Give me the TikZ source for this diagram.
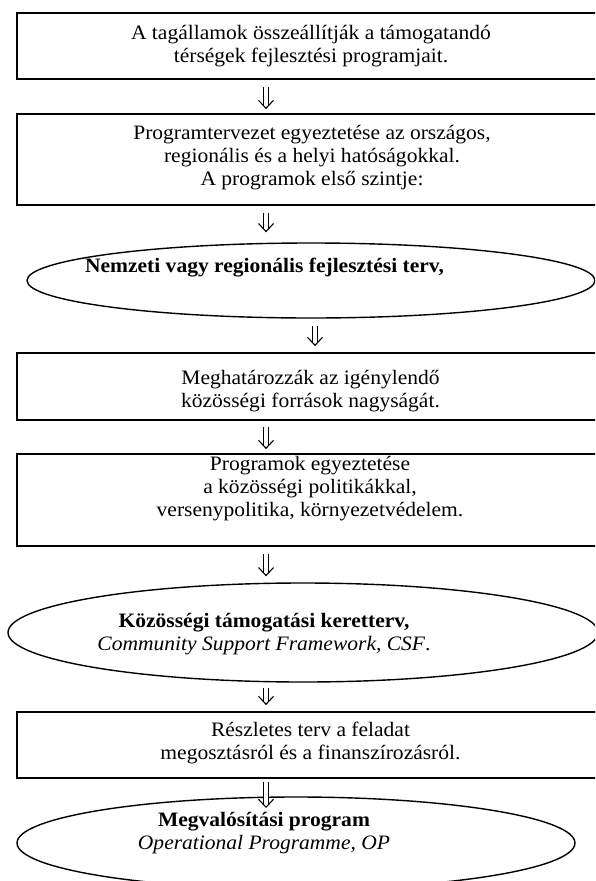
\documentclass[tikz,border=0pt]{standalone}
\usepackage{fontspec}
\setmainfont{Liberation Serif}[FakeStretch=1.05]
\usetikzlibrary{shapes.geometric,arrows.meta}

\tikzset{
  stepbox/.style={draw, line width=1.8pt, rectangle, minimum width=583pt, inner sep=0pt},
  stageoval/.style={draw, line width=1.4pt, ellipse, inner sep=0pt},
  label/.style={align=center, inner sep=0pt,
    font=\fontsize{20.5}{23}\selectfont},
  % double shaft of an arrow; #1 = gap at start, #2 = gap at the tip
  arrowshaft/.style 2 args={double, double distance=4.4pt, line width=1.1pt,
    shorten <=#1, shorten >=#2+3pt},
  % open V head of the same arrow, drawn on a hairline hidden in the shaft
  arrowhead/.style 2 args={white, line width=0.1pt,
    shorten <=#1, shorten >=#2,
    -{Straight Barb[length=8pt, width=15pt, line width=1.1pt, color=black]}},
}

\begin{document}
\begin{tikzpicture}[x=1pt,y=-1pt]
  \useasboundingbox (0,0) rectangle (595,881);
  \clip (0,0) rectangle (595,881);

  % frames and ovals
  \node[stepbox, minimum height=66pt] (b1) at (308.5,46) {};
  \node[stepbox, minimum height=91pt] (b2) at (308.5,159.5) {};
  \node[stageoval, minimum width=568pt, minimum height=75pt] (e1) at (311,280.5) {};
  \node[stepbox, minimum height=67pt] (b3) at (308.5,386.5) {};
  \node[stepbox, minimum height=92pt] (b4) at (308.5,500) {};
  \node[stageoval, minimum width=590pt, minimum height=99pt] (e2) at (303,632.5) {};
  \node[stepbox, minimum height=66pt] (b5) at (308.5,745) {};
  \node[stageoval, minimum width=558pt, minimum height=92pt] (e3) at (296,843) {};

  % texts
  \node[label] (t1) at (311,46) {A tagállamok összeállítják a támogatandó\\térségek fejlesztési programjait.};
  \node[label] (t2) at (312,158) {Programtervezet egyeztetése az országos,\\regionális és a helyi hatóságokkal.\\A programok első szintje:};
  \node[label, font=\fontsize{20.5}{23}\selectfont\bfseries] (t3) at (264.5,268) {Nemzeti vagy regionális fejlesztési terv,};
  \node[label] (t4) at (310.5,391) {Meghatározzák az igénylendő\\közösségi források nagyságát.};
  \node[label] (t5) at (310,489) {Programok egyeztetése\\a közösségi politikákkal,\\versenypolitika, környezetvédelem.};
  \node[label] (t6) at (264,634) {\textbf{Közösségi támogatási keretterv,}\\\textit{Community Support Framework, CSF}.};
  \node[label] (t7) at (310.5,743) {Részletes terv a feladat\\megosztásról és a finanszírozásról.};
  \node[label] (t8) at (264,833) {\textbf{Megvalósítási program}\\\textit{Operational Programme, OP}};

  % arrow columns and the last tip, which reaches into the bottom oval
  \coordinate (ax) at (266,0);
  \coordinate (bx) at (315,0);
  \coordinate (tip7) at (266,808);

  % arrows: shaft, then head on the same route
  \draw[arrowshaft={7pt}{4pt}] (b1.south -| ax) -- (b2.north -| ax);
  \draw[arrowhead={7pt}{4pt}] (b1.south -| ax) -- (b2.north -| ax);
  \draw[arrowshaft={7pt}{10pt}] (b2.south -| ax) -- (e1.north -| ax);
  \draw[arrowhead={7pt}{10pt}] (b2.south -| ax) -- (e1.north -| ax);
  \draw[arrowshaft={7pt}{6pt}] (e1.south -| bx) -- (b3.north -| bx);
  \draw[arrowhead={7pt}{6pt}] (e1.south -| bx) -- (b3.north -| bx);
  \draw[arrowshaft={6pt}{4pt}] (b3.south -| ax) -- (b4.north -| ax);
  \draw[arrowhead={6pt}{4pt}] (b3.south -| ax) -- (b4.north -| ax);
  \draw[arrowshaft={7pt}{6pt}] (b4.south -| ax) -- (e2.north -| ax);
  \draw[arrowhead={7pt}{6pt}] (b4.south -| ax) -- (e2.north -| ax);
  \draw[arrowshaft={5pt}{6pt}] (e2.south -| ax) -- (b5.north -| ax);
  \draw[arrowhead={5pt}{6pt}] (e2.south -| ax) -- (b5.north -| ax);
  \draw[arrowshaft={3pt}{0pt}] (b5.south -| ax) -- (tip7);
  \draw[arrowhead={3pt}{0pt}] (b5.south -| ax) -- (tip7);
\end{tikzpicture}
\end{document}
